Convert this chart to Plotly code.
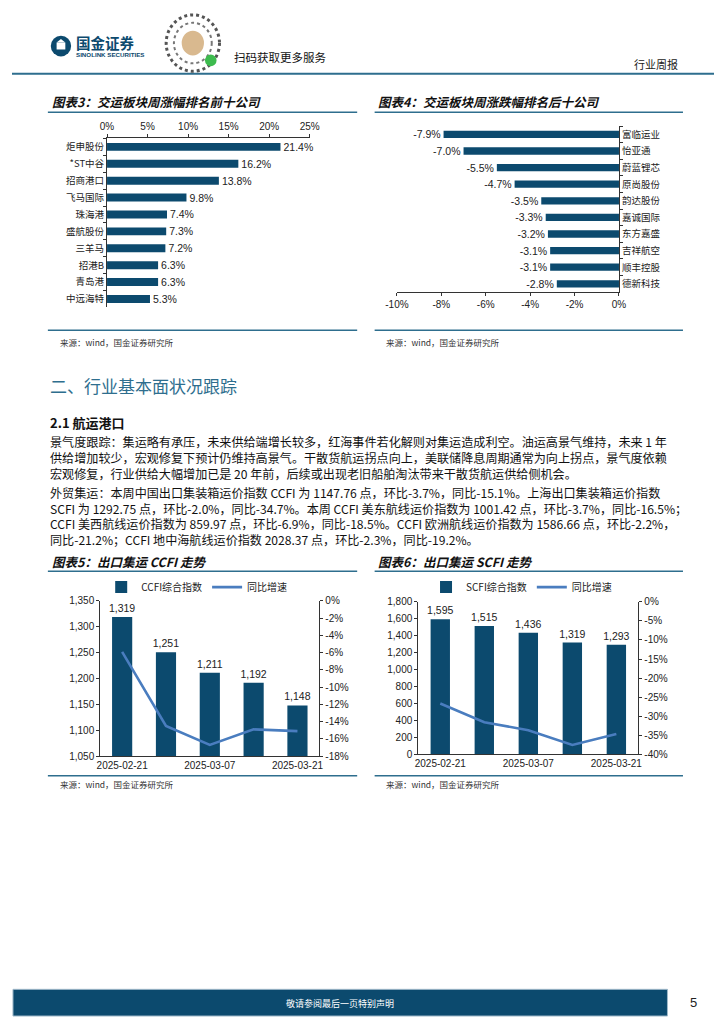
import plotly.graph_objects as go

# ---------------- data ----------------
top_names = ["炬申股份", "*ST中谷", "招商港口", "飞马国际", "珠海港", "盛航股份", "三羊马", "招港B", "青岛港", "中远海特"]
top_vals = [21.4, 16.2, 13.8, 9.8, 7.4, 7.3, 7.2, 6.3, 6.3, 5.3]
top_ticks = [0, 5, 10, 15, 20, 25]

bot_names = ["富临运业", "怡亚通", "蔚蓝锂芯", "原尚股份", "韵达股份", "嘉诚国际", "东方嘉盛", "吉祥航空", "顺丰控股", "德新科技"]
bot_vals = [-7.9, -7.0, -5.5, -4.7, -3.5, -3.3, -3.2, -3.1, -3.1, -2.8]
bot_ticks = [-10, -8, -6, -4, -2, 0]

dates = ["2025-02-21", "2025-02-28", "2025-03-07", "2025-03-14", "2025-03-21"]
date_ticks = ["2025-02-21", "2025-03-07", "2025-03-21"]
ccfi = [1319, 1251, 1211, 1192, 1148]
ccfi_yoy = [-5.9, -14.5, -16.7, -14.9, -15.1]
ccfi_right_ticks = [0, -2, -4, -6, -8, -10, -12, -14, -16, -18]
scfi = [1595, 1515, 1436, 1319, 1293]
scfi_yoy = [-26.7, -31.6, -33.7, -37.6, -34.7]
scfi_right_ticks = [0, -5, -10, -15, -20, -25, -30, -35, -40]

# ---------------- style ----------------
W, H = 724, 1024
BAR = "#0C4A6E"
LINE = "#4A7DBF"
TEAL = "#2E6E8E"
CJK = "Noto Sans CJK SC"
NUM = "Liberation Sans, Noto Sans CJK SC"


def px(x):
    return x / W


def py(y):
    return 1 - y / H


def pct(vals):
    return [f"{v}%" for v in vals]


fig = go.Figure()

lblfont = dict(family=NUM, size=10.5, color="#222")

# Chart 3: top gainers
fig.add_trace(go.Bar(
    x=top_vals, y=top_names, orientation="h", width=0.47,
    marker=dict(color=BAR, line=dict(width=0)),
    text=top_vals, texttemplate="%{x:.1f}%", textposition="outside", constraintext="none",
    textfont=lblfont, cliponaxis=False,
    xaxis="x", yaxis="y", showlegend=False))

# Chart 4: top losers
fig.add_trace(go.Bar(
    x=bot_vals, y=bot_names, orientation="h", width=0.44,
    marker=dict(color=BAR, line=dict(width=0)),
    text=bot_vals, texttemplate="%{x:.1f}%", textposition="outside", constraintext="none",
    textfont=lblfont, cliponaxis=False,
    xaxis="x2", yaxis="y2", showlegend=False))

# Chart 5: CCFI
fig.add_trace(go.Bar(
    x=dates, y=ccfi, width=0.46, name="CCFI综合指数",
    marker=dict(color=BAR, line=dict(width=0)),
    text=ccfi, texttemplate="%{y:,.0f}", textposition="outside", constraintext="none",
    textfont=lblfont, cliponaxis=False,
    xaxis="x3", yaxis="y3", legend="legend"))
fig.add_trace(go.Scatter(
    x=dates, y=ccfi_yoy, mode="lines", name="同比增速",
    line=dict(color=LINE, width=2.6),
    xaxis="x3", yaxis="y4", legend="legend"))

# Chart 6: SCFI
fig.add_trace(go.Bar(
    x=dates, y=scfi, width=0.44, name="SCFI综合指数",
    marker=dict(color=BAR, line=dict(width=0)),
    text=scfi, texttemplate="%{y:,.0f}", textposition="outside", constraintext="none",
    textfont=lblfont, cliponaxis=False,
    xaxis="x4", yaxis="y5", legend="legend2"))
fig.add_trace(go.Scatter(
    x=dates, y=scfi_yoy, mode="lines", name="同比增速",
    line=dict(color=LINE, width=2.6),
    xaxis="x4", yaxis="y6", legend="legend2"))

axfont = dict(family=NUM, size=10, color="#222")
catfont = dict(family=CJK, size=9.5, color="#222")
common = dict(showgrid=False, zeroline=False, showline=True, linecolor="#333",
              linewidth=1, ticks="outside", ticklen=3, tickcolor="#333", fixedrange=True)
xcat = dict(type="category", tickvals=date_ticks, ticktext=date_ticks, tickfont=axfont,
            showgrid=False, zeroline=False, showline=True, linecolor="#333",
            ticks="", fixedrange=True)
legfont = dict(family=CJK, size=10, color="#222")

fig.update_layout(
    width=W, height=H, autosize=False,
    margin=dict(l=0, r=0, t=0, b=0),
    paper_bgcolor="white", plot_bgcolor="white",
    font=dict(family=NUM, color="#222"),
    xaxis=dict(domain=[px(98), px(307)], anchor="y", side="top", range=[0, 25],
               tickvals=top_ticks, ticktext=pct(top_ticks), tickfont=axfont, **common),
    yaxis=dict(domain=[py(305), py(134)], anchor="x", autorange="reversed",
               tickfont=catfont, tickson="boundaries", **common),
    xaxis2=dict(domain=[px(397), px(626)], anchor="y2", range=[-10, 0],
                tickvals=bot_ticks, ticktext=pct(bot_ticks), tickfont=axfont, **common),
    yaxis2=dict(domain=[py(289.5), py(121.5)], anchor="x2", side="right", autorange="reversed",
                tickfont=catfont, tickson="boundaries", **common),
    xaxis3=dict(domain=[px(91), px(317)], anchor="y3", **xcat),
    yaxis3=dict(domain=[py(759), py(602)], anchor="x3", range=[1050, 1350], dtick=50,
                tickformat=",", tickfont=axfont, **common),
    yaxis4=dict(overlaying="y3", anchor="x3", side="right", range=[-18, 0],
                tickvals=ccfi_right_ticks, ticktext=pct(ccfi_right_ticks),
                tickfont=axfont, **common),
    xaxis4=dict(domain=[px(419), px(646)], anchor="y5", **xcat),
    yaxis5=dict(domain=[py(757), py(603)], anchor="x4", range=[0, 1800], dtick=200,
                tickformat=",", tickfont=axfont, **common),
    yaxis6=dict(overlaying="y5", anchor="x4", side="right", range=[-40, 0],
                tickvals=scfi_right_ticks, ticktext=pct(scfi_right_ticks),
                tickfont=axfont, **common),
    legend=dict(orientation="h", x=px(92), y=py(588), xanchor="left", yanchor="middle",
                font=legfont, bgcolor="rgba(0,0,0,0)", itemwidth=30),
    legend2=dict(orientation="h", x=px(427), y=py(588), xanchor="left", yanchor="middle",
                 font=legfont, bgcolor="rgba(0,0,0,0)", itemwidth=30),
)

shapes = []
ann = []


def hline(x0, x1, y, color=TEAL, width=1.5):
    shapes.append(dict(type="line", xref="paper", yref="paper", x0=px(x0), x1=px(x1),
                       y0=py(y), y1=py(y), line=dict(color=color, width=width)))


def text(x, y, s, size=12, color="#111", family=CJK, xanchor="left", **kw):
    ann.append(dict(x=px(x), y=py(y), xref="paper", yref="paper", text=s, showarrow=False,
                    xanchor=xanchor, yanchor="middle", borderpad=0,
                    font=dict(size=size, color=color, family=family), **kw))


# ---------------- header ----------------
hline(0, 724, 68.5, color=TEAL, width=2)
shapes.append(dict(type="circle", xref="paper", yref="paper", x0=px(40), x1=px(61),
                   y0=py(51), y1=py(30), fillcolor=BAR, line=dict(width=0)))
shapes.append(dict(type="rect", xref="paper", yref="paper", x0=px(46), x1=px(55),
                   y0=py(44), y1=py(37), fillcolor="white", line=dict(width=0)))
shapes.append(dict(type="path", xref="paper", yref="paper",
                   path=f"M {px(46)},{py(37)} L {px(50.5)},{py(33.5)} L {px(55)},{py(37)} Z",
                   fillcolor="white", line=dict(width=0)))
text(65, 37, "<b>国金证券</b>", size=14.5, color=BAR)
text(65, 49.5, "<b>SINOLINK SECURITIES</b>", size=6.2, color=BAR, family="Liberation Sans")
# QR code placeholder
shapes.append(dict(type="circle", xref="paper", yref="paper", x0=px(159), x1=px(214),
                   y0=py(66), y1=py(9), fillcolor="white",
                   line=dict(color="#555", width=3, dash="dot")))
shapes.append(dict(type="circle", xref="paper", yref="paper", x0=px(167), x1=px(206),
                   y0=py(58), y1=py(17), fillcolor="white",
                   line=dict(color="#777", width=2, dash="dot")))
shapes.append(dict(type="circle", xref="paper", yref="paper", x0=px(175), x1=px(198),
                   y0=py(50), y1=py(25), fillcolor="#D9B98F", line=dict(width=0)))
shapes.append(dict(type="circle", xref="paper", yref="paper", x0=px(199), x1=px(211),
                   y0=py(61), y1=py(49), fillcolor="#3DBB4E", line=dict(width=0)))
text(228, 52, "扫码获取更多服务", size=11.5, color="#111")
text(688, 59, "行业周报", size=11, color="#222", xanchor="right")

# ---------------- chart titles / rules ----------------
text(40, 97, "<b><i>图表3：交运板块周涨幅排名前十公司</i></b>", size=12.5)
text(376, 97, "<b><i>图表4：交运板块周涨跌幅排名后十公司</i></b>", size=12.5)
hline(37, 356, 107.5)
hline(374, 692, 107.5)
hline(37, 356, 328)
hline(374, 692, 328)
text(48, 340, "来源：wind，国金证券研究所", size=8.5, color="#333")
text(385, 340, "来源：wind，国金证券研究所", size=8.5, color="#333")

text(38, 384, "二、行业基本面状况跟踪", size=17, color=TEAL)
text(38, 421, "<b>2.1 航运港口</b>", size=13)

para = [
    (441, "景气度跟踪：集运略有承压，未来供给端增长较多，红海事件若化解则对集运造成利空。油运高景气维持，未来 1 年"),
    (457, "供给增加较少，宏观修复下预计仍维持高景气。干散货航运拐点向上，美联储降息周期通常为向上拐点，景气度依赖"),
    (473, "宏观修复，行业供给大幅增加已是 20 年前，后续或出现老旧船舶淘汰带来干散货航运供给侧机会。"),
    (492, "外贸集运：本周中国出口集装箱运价指数 CCFI 为 1147.76 点，环比-3.7%，同比-15.1%。上海出口集装箱运价指数"),
    (508, "SCFI 为 1292.75 点，环比-2.0%，同比-34.7%。本周 CCFI 美东航线运价指数为 1001.42 点，环比-3.7%，同比-16.5%；"),
    (524, "CCFI 美西航线运价指数为 859.97 点，环比-6.9%，同比-18.5%。CCFI 欧洲航线运价指数为 1586.66 点，环比-2.2%，"),
    (540, "同比-21.2%；CCFI 地中海航线运价指数 2028.37 点，环比-2.3%，同比-19.2%。"),
]
for y, s in para:
    text(38, y, s, size=12.1, color="#111")

text(40, 562, "<b><i>图表5：出口集运 CCFI 走势</i></b>", size=12.5)
text(376, 562, "<b><i>图表6：出口集运 SCFI 走势</i></b>", size=12.5)
hline(37, 356, 572)
hline(374, 692, 572)
hline(37, 356, 779)
hline(374, 692, 779)
text(48, 787, "来源：wind，国金证券研究所", size=8.5, color="#333")
text(385, 787, "来源：wind，国金证券研究所", size=8.5, color="#333")

# ---------------- footer ----------------
shapes.append(dict(type="rect", xref="paper", yref="paper", x0=px(1), x1=px(676),
                   y0=py(1022), y1=py(995), fillcolor=BAR, line=dict(color="#9FB9C9", width=1)))
text(338, 1009, "敬请参阅最后一页特别声明", size=9, color="white", xanchor="center")
text(703, 1008, "5", size=13, color="#222", family="Liberation Sans", xanchor="center")

fig.update_layout(shapes=shapes, annotations=ann)
fig.write_html("out.html", config={"displayModeBar": False},
               post_script="document.body.style.margin='0';document.body.style.overflow='hidden';")
